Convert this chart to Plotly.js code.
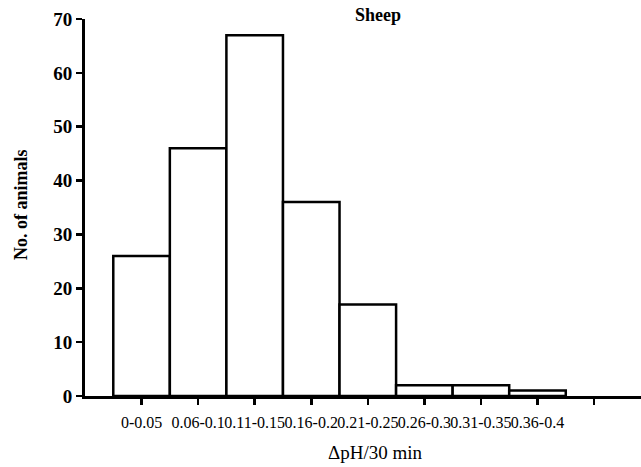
<!DOCTYPE html>
<html>
<head>
<meta charset="utf-8">
<script src="https://cdn.plot.ly/plotly-3.0.1.min.js"></script>
<style>
html,body{margin:0;padding:0;background:#fff;}
#chart{width:641px;height:467px;}
</style>
</head>
<body>
<div id="chart"></div>
<script>
var categories = ["0-0.05","0.06-0.1","0.11-0.15","0.16-0.2","0.21-0.25","0.26-0.3","0.31-0.35","0.36-0.4"];
var counts = [26, 46, 67, 36, 17, 2, 2, 1];
var tickLabels = categories.concat([""]);
var tickPositions = tickLabels.map(function(_, i){ return i; });
var xPositions = categories.map(function(_, i){ return i; });
var yTicks = [0,10,20,30,40,50,60,70];

var serif = "Liberation Serif, Times New Roman, serif";

var trace = {
  type: "bar",
  x: xPositions,
  y: counts,
  width: 1,
  marker: {color: "#ffffff", line: {color: "#000000", width: 2.5}},
  hoverinfo: "none"
};

var layout = {
  width: 641, height: 467,
  margin: {l: 85, r: 0, t: 19, b: 71, pad: 0},
  paper_bgcolor: "#ffffff", plot_bgcolor: "#ffffff",
  showlegend: false,
  bargap: 0,
  xaxis: {
    range: [-1, 8.83],
    tickmode: "array", tickvals: tickPositions, ticktext: tickLabels,
    tickangle: 0,
    showline: true, linecolor: "#000", linewidth: 3,
    ticks: "outside", ticklen: 6, tickwidth: 2.5, tickcolor: "#000",
    showgrid: false, zeroline: false,
    tickfont: {family: serif, size: 16, color: "#000"},
    ticklabelstandoff: 4
  },
  yaxis: {
    range: [0, 70],
    tickmode: "array", tickvals: yTicks,
    showline: true, linecolor: "#000", linewidth: 3,
    ticks: "outside", ticklen: 6, tickwidth: 2.5, tickcolor: "#000",
    showgrid: false, zeroline: false,
    tickfont: {family: serif, size: 19, color: "#000", weight: "bold"}
  },
  annotations: [
    {text: "<b>Sheep</b>", xref: "paper", yref: "paper", x: 0.527, y: 1.011,
     xanchor: "center", yanchor: "middle", showarrow: false,
     font: {family: serif, size: 18, color: "#000"}},
    {text: "ΔpH/30 min", xref: "paper", yref: "paper", x: 0.523, y: -0.15,
     xanchor: "center", yanchor: "middle", showarrow: false,
     font: {family: serif, size: 19, color: "#000"}},
    {text: "<b>No. of animals</b>", xref: "paper", yref: "paper", x: -0.115, y: 0.507,
     xanchor: "center", yanchor: "middle", showarrow: false, textangle: -90,
     font: {family: serif, size: 18, color: "#000"}}
  ]
};

Plotly.newPlot("chart", [trace], layout, {staticPlot: true, displayModeBar: false});
</script>
</body>
</html>
